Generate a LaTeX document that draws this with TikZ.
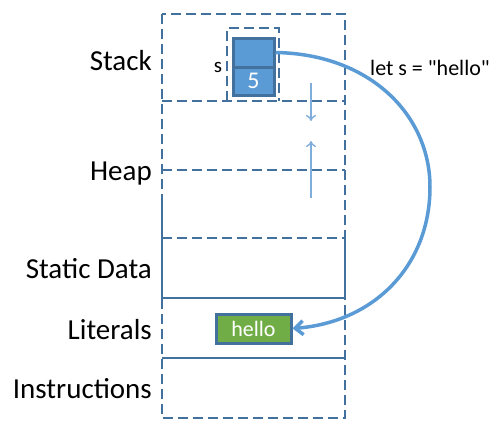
\documentclass[tikz,border=0pt]{standalone}
\usepackage{fontspec}
\setmainfont{Carlito}
\newfontfamily\codefont{Carlito}[Ligatures=TeXOff]
\usetikzlibrary{arrows.meta}
\definecolor{frame}{HTML}{41719C}
\definecolor{cellblue}{HTML}{5B9BD5}
\definecolor{litgreen}{HTML}{70AD47}
\definecolor{thinblue}{HTML}{7FAEDD}
\begin{document}
\begin{tikzpicture}[x=1pt,y=-1pt,
  dsh/.style={draw=frame,line width=2.5pt,dash pattern=on 10pt off 5pt},
  sol/.style={draw=frame,line width=2.5pt},
  region/.style={anchor=base east,font=\fontsize{29}{32}\selectfont,inner sep=0pt},
  cellbox/.style={draw=frame,fill=cellblue,line width=3pt},
  thinarrow/.style={draw=thinblue,line width=1.4pt,-{To[length=6pt,width=10pt]}}]
\useasboundingbox (0,0) rectangle (499,437);
% outer column
\draw[dsh] (162,14) rectangle (345,418);
\draw[dsh] (162,101) -- (345,101);
\draw[dsh] (162,170) -- (345,170);
\draw[dsh] (162,238) -- (345,238);
\draw[sol] (162,200) -- (162,306);
\draw[sol] (345,238) -- (345,298);
\draw[sol] (162,298) -- (345,298);
\draw[sol] (162,358) -- (345,358);
% region labels
\node[region] (lstack) at (152,70) {Stack};
\node[region] (lheap) at (152,180) {Heap};
\node[region] (lstatic) at (152,278) {Static Data};
\node[region] (llit) at (152,339) {Literals};
\node[region] (linst) at (152,398) {Instructions};
% stack frame for s
\draw[dsh] (227,101) -- (227,28) -- (279,28) -- (279,101);
\node[cellbox,minimum width=41pt,minimum height=29pt,inner sep=0pt] (ptr) at (253.5,52.5) {};
\node[cellbox,minimum width=41pt,minimum height=28pt,inner sep=0pt,text=white,font=\fontsize{24}{26}\selectfont] (val) at (253.5,81) {5};
\node[font=\fontsize{21}{23}\selectfont,inner sep=0pt] (slab) at (218,67) {s};
% growth arrows
\coordinate (d1) at (311,83);
\coordinate (d2) at (311,121);
\coordinate (u1) at (311,198);
\coordinate (u2) at (311,141);
\draw[thinarrow] (d1) -- (d2);
\draw[thinarrow] (u1) -- (u2);
% literal
\node[draw=frame,fill=litgreen,line width=3pt,minimum width=75pt,minimum height=29pt,inner sep=0pt,text=white,font=\fontsize{22}{24}\selectfont] (hello) at (253.5,328.5) {hello};
% code label
\node[font=\codefont\fontsize{22}{24}\selectfont,inner sep=0pt] (code) at (430,68) {let s = "hello"};
% pointer arrow
\coordinate (mid) at (430,187);
\draw[draw=cellblue,line width=3.5pt,-{Straight Barb[length=8pt,width=14pt]}]
  (ptr.east) .. controls (370,54) and (430,115) .. (mid)
  .. controls (430,265) and (375,322) .. (hello.east);
\end{tikzpicture}
\end{document}
